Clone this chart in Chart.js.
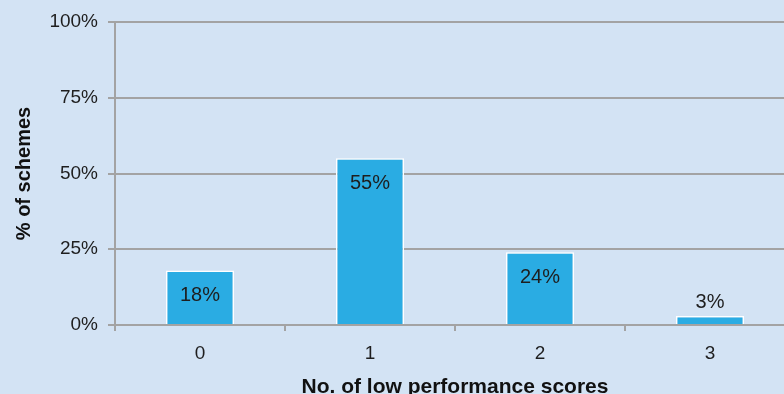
<!DOCTYPE html>
<html>
<head>
<meta charset="utf-8">
<script src="https://cdn.jsdelivr.net/npm/chart.js@4/dist/chart.umd.min.js"></script>
<style>
  html, body { margin: 0; padding: 0; overflow: hidden; background: #d3e3f4; }
  #wrap { width: 800px; height: 400px; }
</style>
</head>
<body>
<div id="wrap"><canvas id="chart"></canvas></div>
<script>
const categories = ['0', '1', '2', '3'];
const shares = [18, 55, 24, 3];
const yTicks = [0, 25, 50, 75, 100];

const FONT = '"Liberation Sans", Arial, sans-serif';
const GRID = '#a3a3a3';

// value labels: inside the bar near its top, above it when the bar is short
const barLabels = {
  id: 'barLabels',
  afterDatasetsDraw(chart) {
    const ctx = chart.ctx;
    const meta = chart.getDatasetMeta(0);
    ctx.save();
    ctx.font = '20px ' + FONT;
    ctx.fillStyle = '#1e1e1e';
    ctx.textAlign = 'center';
    ctx.textBaseline = 'middle';
    meta.data.forEach((bar, i) => {
      const v = shares[i];
      const y = v < 10 ? bar.y - 13 : bar.y + 25;
      ctx.fillText(v + '%', bar.x, y);
    });
    ctx.restore();
  }
};

new Chart(document.getElementById('chart').getContext('2d'), {
  type: 'bar',
  data: {
    labels: categories,
    datasets: [{
      data: shares,
      backgroundColor: '#2aace3',
      borderColor: '#ffffff',
      borderWidth: 1.5,
      barPercentage: 0.4,
      categoryPercentage: 1
    }]
  },
  options: {
    responsive: true,
    maintainAspectRatio: false,
    animation: false,
    layout: { padding: { top: 22, right: 5, left: 0, bottom: 0 } },
    plugins: { legend: { display: false }, tooltip: { enabled: false } },
    scales: {
      x: {
        afterFit: s => { s.height = 75; },
        grid: { drawOnChartArea: false, offset: true, tickLength: 6, color: GRID, lineWidth: 2 },
        border: { color: GRID, width: 2 },
        ticks: { font: { family: FONT, size: 19 }, color: '#1e1e1e', padding: 11 },
        title: {
          display: true,
          text: 'No. of low performance scores',
          font: { family: FONT, size: 21, weight: 'bold' },
          color: '#111',
          padding: { top: 0, bottom: 0 }
        }
      },
      y: {
        min: 0,
        max: 100,
        afterFit: s => { s.width = 115; },
        afterBuildTicks: s => { s.ticks = yTicks.map(v => ({ value: v })); },
        grid: { color: GRID, lineWidth: 2, tickLength: 7 },
        border: { color: GRID, width: 2 },
        ticks: {
          font: { family: FONT, size: 19 },
          color: '#1e1e1e',
          padding: 10,
          callback: v => v + '%'
        },
        title: {
          display: true,
          text: '% of schemes',
          font: { family: FONT, size: 20, weight: 'bold' },
          color: '#111',
          padding: { top: 12, bottom: 0 }
        }
      }
    }
  },
  plugins: [barLabels]
});
</script>
</body>
</html>
